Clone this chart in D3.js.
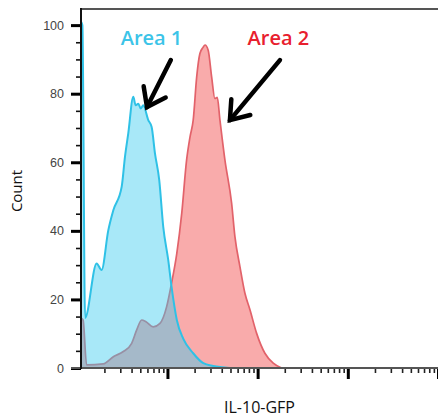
<!DOCTYPE html>
<html>
<head>
<meta charset="utf-8">
<script src="https://cdn.jsdelivr.net/npm/d3@7"></script>
<style>
  body { margin: 0; background: #fff; }
  svg { display: block; }
</style>
</head>
<body>
<svg id="chart" width="438" height="417"></svg>
<script>
// Area 1 (cyan) histogram: IL-10-GFP intensity vs count
const area1X = [11, 11.4, 12.2, 16.4, 18.6, 22.1, 25.1, 31.1, 33.8, 36.8, 41.8, 44.4, 47.5, 50.5, 53.9,
  61.3, 66.8, 72.7, 81.1, 89.8, 102, 111, 127, 150, 193, 250, 322, 493];
const area1Count = [101, 100, 14.6, 30.5, 28.6, 40.2, 46, 52.9, 61.6, 68.5, 79.1, 76.6, 77.1, 75.7, 76.6,
  72.3, 70.3, 62.6, 54.8, 41.2, 31.5, 23.7, 14, 8.5, 4.3, 1.4, 0.6, 0];

// Area 2 (red) histogram
const area2X = [11, 11.6, 12.7, 19.4, 25.1, 32.4, 40.1, 45.6, 51.8, 57.8, 69.6, 82.6, 98, 111, 127, 144,
  163, 178, 193, 211, 229, 248, 261, 283, 309, 336, 357, 382, 434, 515, 560, 637, 723, 822, 975, 1204,
  1489, 1845];
const area2Count = [14.6, 14, 0.9, 1.2, 3.3, 4.8, 7.2, 11.1, 14, 13.5, 12, 13, 17.9, 24.7, 33.4, 45.1,
  60.6, 67.4, 72.3, 84.9, 91.7, 93.5, 94.2, 92.7, 84.9, 78.6, 78.9, 72.3, 60.6, 48, 38.3, 29.5, 21.8,
  17, 10.1, 4.3, 1.4, 0];

const yMajor = [0, 20, 40, 60, 80, 100];
const yMinor = [5, 10, 15, 25, 30, 35, 45, 50, 55, 65, 70, 75, 85, 90, 95];
const xMajor = [100, 1000, 10000, 100000];
const xMinor = [20, 30, 40, 50, 60, 70, 80, 90,
  200, 300, 400, 500, 600, 700, 800, 900,
  2000, 3000, 4000, 5000, 6000, 7000, 8000, 9000,
  20000, 30000, 40000, 50000, 60000, 70000, 80000, 90000];

// annotations: label position and arrow from/to, in data units
const labels = [
  { text: "Area 1", color: "#3cc4e8", x: 66.5, y: 94.2, x1: 109, y1: 89.8, x2: 59.3, y2: 76.1 },
  { text: "Area 2", color: "#e8202e", x: 1700, y: 94.2, x1: 1767, y1: 89.8, x2: 493, y2: 72.3 }
];

drawChart();

function drawChart() {
  var svg = d3.select("#chart");
  var mLeft = 81, mRight = 438, mTop = 9, mBottom = 368;

  var x = d3.scaleLog().domain([11, 100000]).range([mLeft, mRight]);
  var y = d3.scaleLinear().domain([0, 104.7]).range([mBottom, mTop]);

  svg.append("defs").append("clipPath").attr("id", "plot")
    .append("rect").attr("x", mLeft).attr("y", mTop)
    .attr("width", mRight - mLeft).attr("height", mBottom - mTop);

  function series(xs, ys) {
    return xs.map((d, i) => ({ x: d, c: ys[i] }));
  }

  var area = d3.area().x((d) => x(d.x)).y0(y(0)).y1((d) => y(d.c)).curve(d3.curveMonotoneX);
  var line = d3.line().x((d) => x(d.x)).y((d) => y(d.c)).curve(d3.curveMonotoneX);

  var plot = svg.append("g").attr("clip-path", "url(#plot)");
  var red = series(area2X, area2Count);
  var cyan = series(area1X, area1Count);

  plot.append("path").datum(red).attr("d", area).attr("fill", "#f9abab");
  plot.append("path").datum(red).attr("d", line).attr("fill", "none")
    .attr("stroke", "#e2626a").attr("stroke-width", 1.7);
  plot.append("path").datum(cyan).attr("d", area).attr("fill", "rgb(57,203,239)").attr("fill-opacity", 0.44);
  plot.append("path").datum(cyan).attr("d", line).attr("fill", "none")
    .attr("stroke", "#2fc1e6").attr("stroke-width", 2);

  // top frame
  svg.append("line").attr("x1", mLeft).attr("x2", mRight).attr("y1", mTop).attr("y2", mTop)
    .attr("stroke", "#555").attr("stroke-width", 2);

  // y axis
  var yMinorAxis = svg.append("g").attr("transform", `translate(${mLeft},0)`)
    .call(d3.axisLeft(y).tickValues(yMinor).tickSize(5).tickFormat(""));
  yMinorAxis.select(".domain").remove();
  yMinorAxis.selectAll("line").attr("stroke", "#111").attr("stroke-width", 1.6);

  var yAxis = svg.append("g").attr("transform", `translate(${mLeft},0)`)
    .call(d3.axisLeft(y).tickValues(yMajor).tickSize(10).tickPadding(7));
  yAxis.select(".domain").remove();
  yAxis.selectAll("line").attr("stroke", "#000").attr("stroke-width", 3);
  yAxis.selectAll("text").attr("fill", "#444")
    .style("font-family", "Liberation Sans, Arial, sans-serif").style("font-size", "12.5px");

  // x axis
  var xMinorAxis = svg.append("g").attr("transform", `translate(0,${mBottom})`)
    .call(d3.axisBottom(x).tickValues(xMinor).tickSize(5).tickFormat(""));
  xMinorAxis.select(".domain").remove();
  xMinorAxis.selectAll("line").attr("stroke", "#222").attr("stroke-width", 1.6);

  var xAxis = svg.append("g").attr("transform", `translate(0,${mBottom})`)
    .call(d3.axisBottom(x).tickValues(xMajor).tickSize(11).tickFormat(""));
  xAxis.select(".domain").remove();
  xAxis.selectAll("line").attr("stroke", "#000").attr("stroke-width", 3);

  svg.append("line").attr("x1", mLeft - 10).attr("x2", mRight).attr("y1", mBottom).attr("y2", mBottom)
    .attr("stroke", "#555").attr("stroke-width", 2);
  svg.append("line").attr("x1", mLeft).attr("x2", mLeft).attr("y1", mTop - 1).attr("y2", mBottom + 1)
    .attr("stroke", "#111").attr("stroke-width", 2);

  // axis titles
  svg.append("text").attr("transform", "translate(22,191) rotate(-90)")
    .attr("text-anchor", "middle").style("font-family", "Open Sans, sans-serif")
    .style("font-size", "15px").attr("fill", "#111").text("Count");

  svg.append("text").attr("x", 259.5).attr("y", 413).attr("text-anchor", "middle")
    .style("font-family", "Open Sans, sans-serif").style("font-size", "16px")
    .attr("fill", "#111").text("IL-10-GFP");

  // annotations
  labels.forEach(function (d) {
    svg.append("text").attr("x", x(d.x)).attr("y", y(d.y)).attr("text-anchor", "middle")
      .style("font-family", "Open Sans, sans-serif").style("font-size", "20px")
      .style("font-weight", 600).attr("fill", d.color).text(d.text);

    var ax1 = x(d.x1), ay1 = y(d.y1), ax2 = x(d.x2), ay2 = y(d.y2);
    var ang = Math.atan2(ay2 - ay1, ax2 - ax1);
    var len = 21, spread = Math.PI / 5;
    var head = [
      [ax2 - len * Math.cos(ang - spread), ay2 - len * Math.sin(ang - spread)],
      [ax2, ay2],
      [ax2 - len * Math.cos(ang + spread), ay2 - len * Math.sin(ang + spread)]
    ];
    svg.append("line").attr("x1", ax1).attr("y1", ay1).attr("x2", ax2).attr("y2", ay2)
      .attr("stroke", "#000").attr("stroke-width", 4.5).attr("stroke-linecap", "round");
    svg.append("path").attr("d", d3.line()(head)).attr("fill", "none")
      .attr("stroke", "#000").attr("stroke-width", 4.5)
      .attr("stroke-linecap", "round").attr("stroke-linejoin", "miter");
  });
}
</script>
</body>
</html>
